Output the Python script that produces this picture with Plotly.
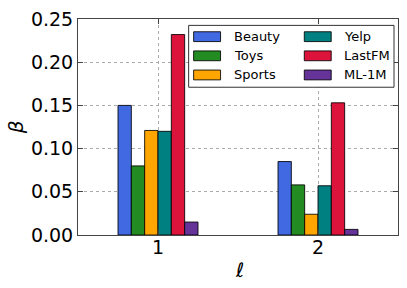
import plotly.graph_objects as go

layers = [1, 2]
series = ["Beauty", "Toys", "Sports", "Yelp", "LastFM", "ML-1M"]
colors = ["#4169E1", "#228B22", "#FFA500", "#008080", "#DC143C", "#663399"]
beauty = [0.150, 0.085]
toys = [0.080, 0.058]
sports = [0.121, 0.024]
yelp = [0.120, 0.057]
lastfm = [0.232, 0.153]
ml1m = [0.015, 0.0065]
values = [beauty, toys, sports, yelp, lastfm, ml1m]
yticks = [0.0, 0.05, 0.10, 0.15, 0.20, 0.25]
ytick_labels = ["0.00", "0.05", "0.10", "0.15", "0.20", "0.25"]

W, H = 407, 288
L, R, T, B = 78, 8, 15, 53
PW, PH = W - L - R, H - T - B

def px(x):
    return (x - L) / PW

def py(y):
    return (H - B - y) / PH

fig = go.Figure()
for name, col, vals in zip(series, colors, values):
    fig.add_trace(go.Bar(
        x=layers, y=vals, name=name,
        marker=dict(color=col, line=dict(color="rgba(0,0,0,0.85)", width=1)),
        showlegend=False, hoverinfo="skip",
    ))

font = "DejaVu Sans"
axis_common = dict(
    showline=True, linecolor="#444", linewidth=1, mirror="ticks",
    ticks="inside", ticklen=5, tickcolor="#444",
    showgrid=True, gridcolor="#aaaaaa", griddash="dot", gridwidth=1,
    zeroline=False, tickfont=dict(family=font, size=19, color="black"),
)

fig.update_layout(
    width=W, height=H,
    margin=dict(l=L, r=R, t=T, b=B),
    plot_bgcolor="white", paper_bgcolor="white",
    barmode="group", bargap=0.5, bargroupgap=0,
    xaxis=dict(range=[0.5, 2.5], tickvals=layers, ticktext=[str(v) for v in layers],
               ticklabelstandoff=-5, **axis_common),
    yaxis=dict(range=[0, 0.25], tickvals=yticks, ticktext=ytick_labels, **axis_common),
)

# axis titles
fig.add_annotation(text="<i>β</i>", xref="paper", yref="paper", x=px(16), y=py(125),
                   xanchor="center", yanchor="middle",
                   showarrow=False, textangle=-90, font=dict(family=font, size=20, color="black"))
fig.add_annotation(text="ℓ", xref="paper", yref="paper", x=px(240), y=py(271),
                   xanchor="center", yanchor="middle",
                   showarrow=False, font=dict(family=font, size=20, color="black"))

# legend box (two columns, column-major order)
shapes = [dict(type="rect", xref="paper", yref="paper", x0=px(189), x1=px(395),
               y0=py(84.5), y1=py(21.5), line=dict(color="#333", width=1), fillcolor="white", layer="above")]
col_patch_x = [194, 305]
row_y = [33, 52.5, 72]
for i, (name, col) in enumerate(zip(series, colors)):
    c, r = divmod(i, 3)
    x0 = col_patch_x[c]
    yc = row_y[r]
    shapes.append(dict(type="rect", xref="paper", yref="paper", x0=px(x0), x1=px(x0 + 27),
                       y0=py(yc + 5), y1=py(yc - 5), fillcolor=col,
                       line=dict(color="rgba(0,0,0,0.85)", width=1), layer="above"))
    fig.add_annotation(text=name, xref="paper", yref="paper", x=px(x0 + 38), y=py(yc),
                       xanchor="left", yanchor="middle", showarrow=False,
                       font=dict(family=font, size=13, color="black"))
fig.update_layout(shapes=shapes)

fig.write_html("out.html", config={"displayModeBar": False},
               post_script="document.body.style.margin='0';document.body.style.overflow='hidden';")
